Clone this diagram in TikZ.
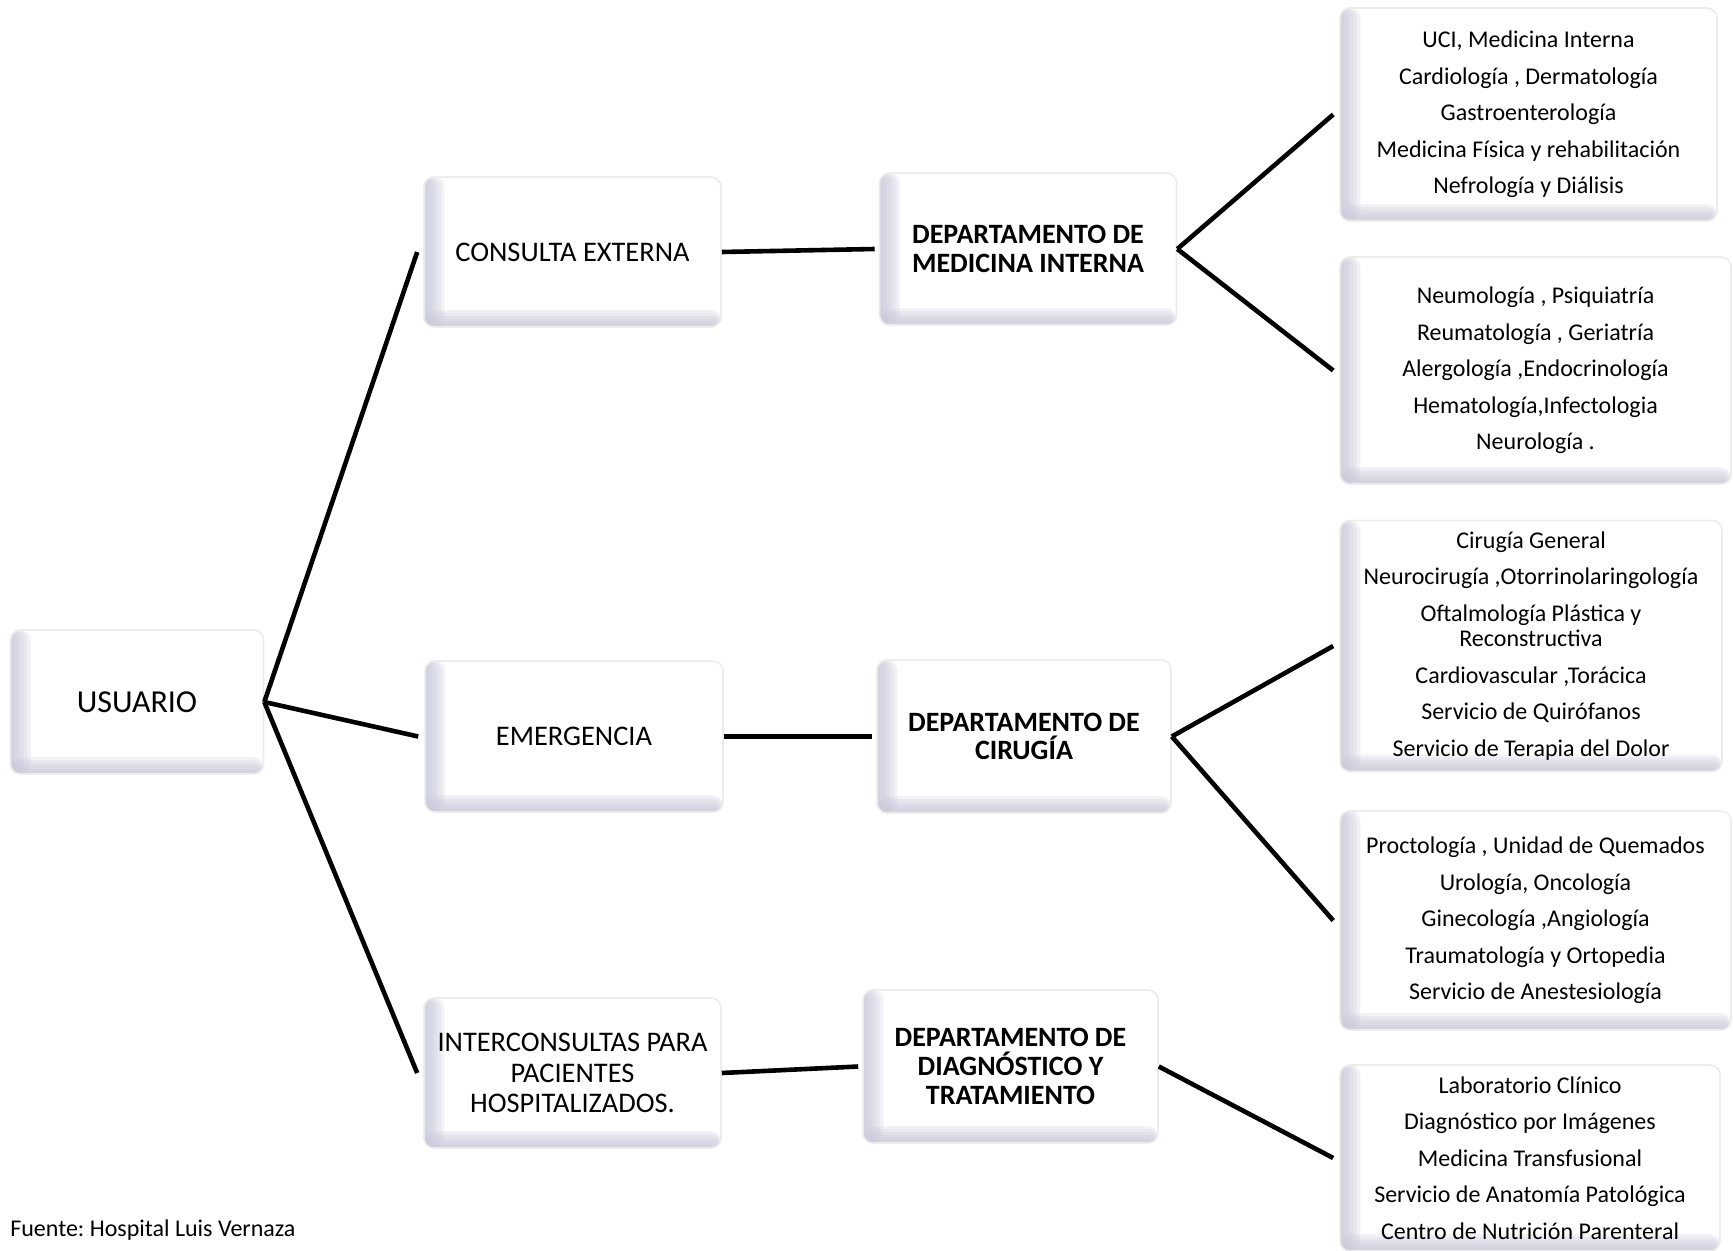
\documentclass[tikz,border=0pt]{standalone}
\usepackage{fontspec}
\setmainfont{Carlito}
\frenchspacing
\definecolor{sombra}{RGB}{200,200,218}

\begin{document}
\begin{tikzpicture}[x=0.5pt,y=-0.5pt, line width=2.3pt]
                \tikzstyle{caja}=[draw=gray!15, line width=0.8pt, fill=white, rounded corners=5pt, inner sep=0pt, align=center,
                    path picture={
                        \foreach \i in {1,...,6}
                            {
                                \fill[sombra, opacity=0.22] (path picture bounding box.south west) rectangle ([xshift=\i*1.7pt]path picture bounding box.north west);
                                \fill[sombra, opacity=0.22] (path picture bounding box.south west) rectangle ([yshift=\i*1.4pt]path picture bounding box.south east);
                            }
                    }]
                \tikzstyle{normal}=[font=\fontsize{14.2}{15.2}\selectfont]
                \tikzstyle{depto}=[font=\bfseries\fontsize{14}{14.4}\selectfont]
                \tikzstyle{lista}=[font=\fontsize{12}{18.25}\selectfont]
                \useasboundingbox (0,0) rectangle (1733,1251);
                \node[caja, minimum width=126.5pt, minimum height=72pt, font=\fontsize{16}{18}\selectfont] (usuario) at (137,702) {USUARIO};
                \node[caja, normal, minimum width=148.5pt, minimum height=75pt] (consulta) at (572.5,252) {CONSULTA EXTERNA};
                \node[caja, normal, minimum width=149pt, minimum height=75.5pt] (emerg) at (574,736.5) {EMERGENCIA};
                \node[caja, normal, minimum width=148.5pt, minimum height=75pt] (inter) at (572.5,1073) {INTERCONSULTAS PARA\\PACIENTES\\HOSPITALIZADOS.};
                \node[caja, depto, minimum width=148.5pt, minimum height=76pt] (dmi) at (1028,249) {DEPARTAMENTO DE\\MEDICINA INTERNA};
                \node[caja, depto, minimum width=147pt, minimum height=76.5pt] (dcir) at (1024,736.5) {DEPARTAMENTO DE\\CIRUGÍA};
                \node[caja, depto, minimum width=147.5pt, minimum height=76.5pt] (ddiag) at (1010.5,1066.5) {DEPARTAMENTO DE\\DIAGNÓSTICO Y\\TRATAMIENTO};
                \node[caja, lista, minimum width=188.5pt, minimum height=106.5pt] (mi1) at (1528.5,114.5) {UCI, Medicina Interna\\Cardiología , Dermatología\\Gastroenterología\\Medicina Física y rehabilitación\\Nefrología y Diálisis};
                \node[caja, lista, minimum width=195.5pt, minimum height=113.5pt] (mi2) at (1535.5,370.5) {Neumología , Psiquiatría\\Reumatología , Geriatría\\Alergología ,Endocrinología\\Hematología,Infectologia\\Neurología .};
                \node[caja, lista, minimum width=191pt, minimum height=125.5pt] (ci1) at (1531,646) {Cirugía General\\Neurocirugía ,Otorrinolaringología\\Oftalmología Plástica y\\[-5.5pt]Reconstructiva\\Cardiovascular ,Torácica\\Servicio de Quirófanos\\Servicio de Terapia del Dolor};
                \node[caja, lista, minimum width=195.5pt, minimum height=109.5pt] (ci2) at (1535.5,920.5) {Proctología , Unidad de Quemados\\Urología, Oncología\\Ginecología ,Angiología\\Traumatología y Ortopedia\\Servicio de Anestesiología};
                \node[caja, lista, minimum width=190pt, minimum height=93pt] (dg1) at (1530,1158) {Laboratorio Clínico\\Diagnóstico por Imágenes\\Medicina Transfusional\\Servicio de Anatomía Patológica\\Centro de Nutrición Parenteral};
                \foreach \b in {consulta,emerg,inter}
                    {
                        \draw (usuario.east) -- ([xshift=-3pt]\b.west);
                    }
                \draw (consulta.east) -- ([xshift=-2pt]dmi.west);
                \draw (emerg.east) -- ([xshift=-2pt]dcir.west);
                \draw (inter.east) -- ([xshift=-2pt]ddiag.west);
                \foreach \a/\b in {dmi/mi1,dmi/mi2,dcir/ci1,dcir/ci2,ddiag/dg1}
                    {
                        \draw (\a.east) -- ([xshift=-3pt]\b.west);
                    }
                \node[font=\fontsize{12}{14}\selectfont, anchor=west, inner sep=0pt] (fuente) at (8,1230) {Fuente: Hospital Luis Vernaza};
            \end{tikzpicture}
\end{document}
